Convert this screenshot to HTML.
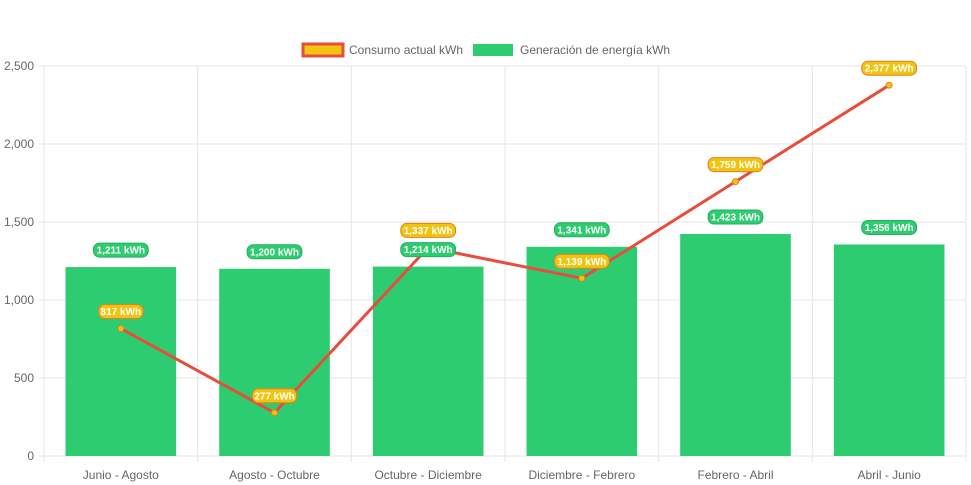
<!DOCTYPE html>
<html><head><meta charset="utf-8"><style>
body{margin:0;background:#fff;}
svg{display:block;font-family:"Liberation Sans",Arial,sans-serif;}
</style></head><body>
<svg id="c" width="971" height="485"></svg>
<script>
const categories=["Junio - Agosto","Agosto - Octubre","Octubre - Diciembre","Diciembre - Febrero","Febrero - Abril","Abril - Junio"];
const generation=[1211,1200,1214,1341,1423,1356];
const consumption=[817,277,1337,1139,1759,2377];
const yTicks=[0,500,1000,1500,2000,2500];
const NS="http://www.w3.org/2000/svg";
const svg=document.getElementById('c');
const X0=44,X1=966,Y0=456,Y1=66,YMAX=2500;
const cw=(X1-X0)/categories.length;
const xc=i=>X0+cw*(i+0.5);
const y=v=>Y0-(v/YMAX)*(Y0-Y1);
function el(t,a,txt){const e=document.createElementNS(NS,t);for(const k in a)e.setAttribute(k,a[k]);if(txt!=null)e.textContent=txt;svg.appendChild(e);return e;}
yTicks.forEach(t=>{
 const g=el('line',{x1:X0-5,x2:X1,y1:y(t),y2:y(t),stroke:'#e5e5e5'});
 
 
 const l=el('text',{x:X0-10,y:y(t)+4,'text-anchor':'end','font-size':12,fill:'#666'},t.toLocaleString('en-US'));
 
 
});
for(let i=0;i<=categories.length;i++){
 const g=el('line',{x1:X0+cw*i,x2:X0+cw*i,y1:Y1,y2:Y0+6,stroke:'#e5e5e5'});
 
 
}
categories.forEach((c,i)=>{
 const l=el('text',{x:xc(i),y:479,'text-anchor':'middle','font-size':12,fill:'#666'},c);
 
 
});
const bw=cw*0.72;
generation.forEach((v,i)=>{
 const b=el('rect',{x:xc(i)-bw/2,y:y(v),width:bw,height:Y0-y(v),fill:'#2ecc71'});
 
 
});
const pts=consumption.map((v,i)=>xc(i)+','+y(v)).join(' ');
const ln=el('polyline',{points:pts,fill:'none',stroke:'#e74c3c','stroke-width':3});


consumption.forEach((v,i)=>{
 const p=el('circle',{cx:xc(i),cy:y(v),r:3,fill:'#f1c40f',stroke:'#e67e22','stroke-width':1});
 
 
});
function badge(cx,cy,txt,fill,stroke){
 const w=txt.length*5.2+8;
 const r=el('rect',{x:cx-w/2,y:cy-7,width:w,height:14,rx:6,fill:fill,stroke:stroke,'stroke-width':1});
 const t=el('text',{x:cx,y:cy+3.5,'text-anchor':'middle','font-size':10,'font-weight':'bold',fill:'#fff'},txt);
 return [r,t];
}
generation.forEach((v,i)=>{
 const [r,t]=badge(xc(i),y(v)-17,v.toLocaleString('en-US')+' kWh','#2ecc71','#27ae60');
 
 
 
 
});
consumption.forEach((v,i)=>{
 const [r,t]=badge(xc(i),y(v)-17,v.toLocaleString('en-US')+' kWh','#f1c40f','#e67e22');
 
 
 
 
});
const lg1=el('rect',{x:303,y:44,width:40,height:12,fill:'#f1c40f',stroke:'#e74c3c','stroke-width':3});


const lt1=el('text',{x:349,y:54,'font-size':12,fill:'#666'},'Consumo actual kWh');


const lg2=el('rect',{x:473,y:44,width:40,height:12,fill:'#2ecc71'});


const lt2=el('text',{x:520,y:54,'font-size':12,fill:'#666'},'Generación de energía kWh');


</script>
</body></html>
